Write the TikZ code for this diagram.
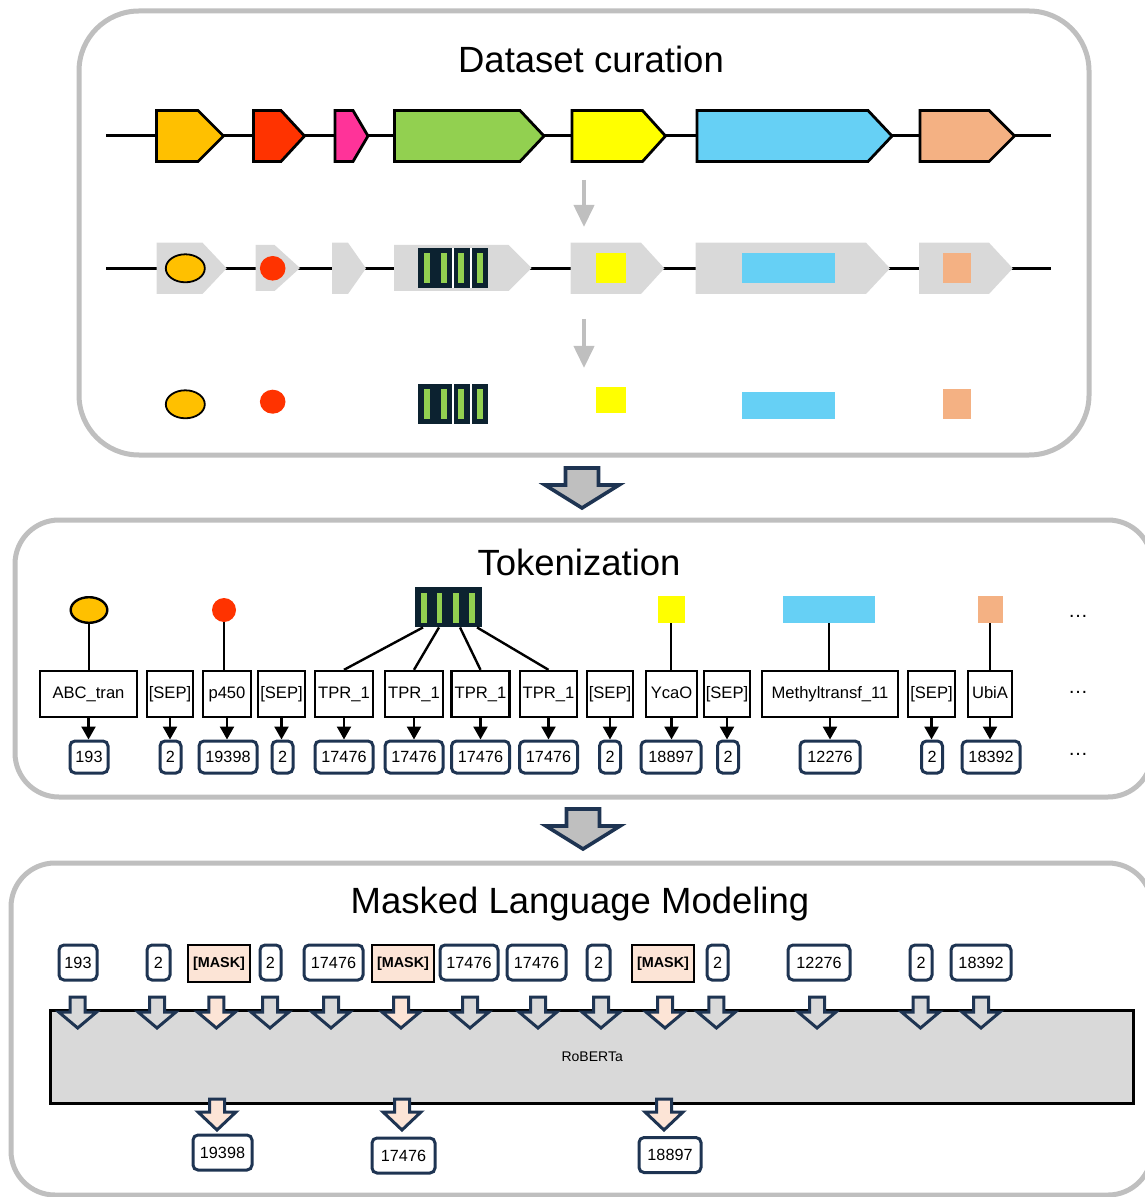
\documentclass[tikz,border=0pt]{standalone}
\usepackage{fontspec}
\setmainfont{Liberation Sans}
\usetikzlibrary{shapes.geometric,arrows.meta,calc}
\definecolor{panelgray}{HTML}{BFBFBF}
\definecolor{navy}{HTML}{1E3452}
\definecolor{genegray}{HTML}{D9D9D9}
\definecolor{gorange}{HTML}{FFC000}
\definecolor{gred}{HTML}{FF3300}
\definecolor{gpink}{HTML}{FF3399}
\definecolor{ggreen}{HTML}{92D050}
\definecolor{gyellow}{HTML}{FFFF00}
\definecolor{gblue}{HTML}{66D0F5}
\definecolor{gtan}{HTML}{F4B183}
\definecolor{domdark}{HTML}{0C2230}
\definecolor{peach}{HTML}{FCE4D6}
\definecolor{arrowgray}{HTML}{D9D9D9}
\tikzset{
  panel/.style={draw=panelgray, line width=2.5pt},
  title/.style={font=\fontsize{18.25}{21}\selectfont, anchor=base, inner sep=0pt},
  gene/.style={draw=black, line width=1.4pt, line join=miter},
  ggene/.style={fill=genegray},
  chrom/.style={draw=black, line width=1.4pt},
  grayarrow/.style={draw=panelgray, line width=2pt, -{Triangle[width=10pt,length=11pt]}},
  tok/.style={draw=black, line width=1.2pt, fill=white, minimum height=23pt, inner sep=0pt,
    font=\fontsize{8.3}{10}\selectfont, text height=6pt, text depth=1.5pt},
  num/.style={draw=navy, line width=1.5pt, rounded corners=2.5pt, fill=white, minimum height=16pt,
    inner sep=0pt, font=\fontsize{8.1}{9.6}\selectfont},
  mnum/.style={num, minimum height=17.5pt},
  mask/.style={draw=black, line width=1.2pt, fill=peach, minimum width=31pt, minimum height=18.5pt,
    inner sep=0pt, font=\fontsize{7.2}{8.6}\selectfont\bfseries},
  link/.style={draw=black, line width=1.2pt},
  tokarrow/.style={draw=black, line width=1.2pt, -{Triangle[width=7pt,length=6.5pt]}},
  dots/.style={font=\fontsize{10}{12}\selectfont, inner sep=0pt},
  blk/.style={draw=navy, line width=1.5pt, line join=miter, fill=arrowgray},
  blkpeach/.style={blk, fill=peach},
  bigblk/.style={draw=navy, line width=1.8pt, line join=miter, fill=panelgray},
}
% gene arrow: style, x0, xbody, xtip, ytop, ybottom
\newcommand\genearrow[6]{\path[#1] (#2,#5) -- (#3,#5) -- (#4,{(#5+#6)/2}) -- (#3,#6) -- (#2,#6) -- cycle;}
% down block arrow: style, centre x, half shaft, half head, top, shoulder, tip
\newcommand\blkdown[7]{\path[#1] ({#2-#3},#5) -- ({#2+#3},#5) -- ({#2+#3},#6) -- ({#2+#4},#6) -- (#2,#7) -- ({#2-#4},#6) -- ({#2-#3},#6) -- cycle;}
% Pfam TPR domain (70 x 40) with separators: x0, y0
\newcommand\pfamdom[2]{%
  \fill[domdark] (#1,#2) rectangle ++(70,40);
  \foreach \bx in {9,26,43,62} {\fill[ggreen] ({#1+\bx-2.8},{#2+5}) rectangle ++(5.6,30);}
  \draw[white, line width=0.8pt] ({#1+35},#2) -- ++(0,40);
  \draw[white, line width=0.8pt] ({#1+53},#2) -- ++(0,40);}
\begin{document}
\begin{tikzpicture}[x=0.5pt,y=-0.5pt]
\useasboundingbox (0,0) rectangle (1144,1197);

% ---------------- Panels ----------------
\draw[panel, rounded corners=30pt] (79,11) rectangle (1089,455);
\draw[panel, rounded corners=22pt] (15,520) rectangle (1152,797);
\draw[panel, rounded corners=22pt] (11,863) rectangle (1152,1195);

\node[title] (t1) at (591,73) {Dataset curation};
\node[title] (t2) at (579,575) {Tokenization};
\node[title] (t3) at (580,913) {Masked Language Modeling};

% ---------------- Row 1: gene cluster ----------------
\draw[chrom] (106,135.5) -- (1051,135.5);
\genearrow{gene, fill=gorange}{156.5}{198}{223.5}{110.5}{161.5}
\genearrow{gene, fill=gred}{253.5}{281}{304.5}{110.5}{161.5}
\genearrow{gene, fill=gpink}{335}{353}{368}{110.5}{161.5}
\genearrow{gene, fill=ggreen}{394.5}{520}{544}{110.5}{161.5}
\genearrow{gene, fill=gyellow}{572}{642.5}{665.5}{110.5}{161.5}
\genearrow{gene, fill=gblue}{697}{868}{892}{110.5}{161.5}
\genearrow{gene, fill=gtan}{920}{989}{1014.5}{110.5}{161.5}

\coordinate (ga1) at (584,180);
\coordinate (gb1) at (584,227);
\draw[grayarrow] (ga1) -- (gb1);

% ---------------- Row 2: annotated genes ----------------
\draw[chrom] (106,268.3) -- (1051,268.3);
\genearrow{ggene}{156.5}{202.5}{226.7}{242.7}{294}
\genearrow{ggene}{255.5}{274.6}{300}{245}{291}
\genearrow{ggene}{332}{348}{366}{242.7}{294}
\genearrow{ggene}{394}{508.7}{531.7}{245}{291}
\genearrow{ggene}{570.6}{641}{664.4}{242.7}{294}
\genearrow{ggene}{695.7}{866}{890}{242.7}{294}
\genearrow{ggene}{919}{989}{1012.8}{242.7}{294}
\draw[black, line width=0.9pt, fill=gorange] (185.3,268.3) ellipse [x radius=19.5, y radius=14];
\fill[gred] (272.7,268.3) ellipse [x radius=12.8, y radius=12.3];
\pfamdom{418}{248.3}
\fill[gyellow] (595.5,253.3) rectangle (625.5,283.3);
\fill[gblue] (742,253.3) rectangle (835,283.3);
\fill[gtan] (943,253.3) rectangle (971,283.3);

\coordinate (ga2) at (584,319);
\coordinate (gb2) at (584,368);
\draw[grayarrow] (ga2) -- (gb2);

% ---------------- Row 3: domains only ----------------
\draw[black, line width=0.9pt, fill=gorange] (185.3,404.3) ellipse [x radius=19.5, y radius=14];
\fill[gred] (272.7,401.7) ellipse [x radius=12.8, y radius=12];
\pfamdom{418}{384}
\fill[gyellow] (595.5,386.7) rectangle (625.5,413.3);
\fill[gblue] (742,392) rectangle (835,419);
\fill[gtan] (943,389.3) rectangle (971,419);

% big arrow 1
\blkdown{bigblk}{582}{16.5}{37}{468}{485}{508}

% ---------------- Tokenization ----------------
\node[ellipse, draw=black, line width=1.2pt, fill=gorange, minimum width=18.3pt, minimum height=12.8pt, inner sep=0pt] (ic1) at (89,610) {};
\node[circle, fill=gred, minimum size=12pt, inner sep=0pt] (ic2) at (224,610) {};
\node[rectangle, fill=domdark, minimum width=33.5pt, minimum height=20pt, inner sep=0pt] (ic3) at (448.5,607) {};
\foreach \bx in {424,439.5,456,471.7} {\fill[ggreen] ({\bx-2.85},593) rectangle ({\bx+2.85},623);}
\node[rectangle, fill=gyellow, minimum width=13.5pt, minimum height=13.5pt, inner sep=0pt] (ic4) at (671,609.5) {};
\node[rectangle, fill=gblue, minimum width=46pt, minimum height=13.5pt, inner sep=0pt] (ic5) at (829,609.5) {};
\node[rectangle, fill=gtan, minimum width=12.5pt, minimum height=13.5pt, inner sep=0pt] (ic6) at (990,609.5) {};

\node[tok, minimum width=48.5pt] (tk1) at (88.5,694) {ABC\_tran};
\node[tok, minimum width=23pt] (tk2) at (170,694) {[SEP]};
\node[tok, minimum width=24pt] (tk3) at (227,694) {p450};
\node[tok, minimum width=23.5pt] (tk4) at (281.5,694) {[SEP]};
\node[tok, minimum width=29pt] (tk5) at (344,694) {TPR\_1};
\node[tok, minimum width=29pt] (tk6) at (414,694) {TPR\_1};
\node[tok, minimum width=29pt] (tk7) at (480.5,694) {TPR\_1};
\node[tok, minimum width=28.5pt] (tk8) at (548.5,694) {TPR\_1};
\node[tok, minimum width=23pt] (tk9) at (610,694) {[SEP]};
\node[tok, minimum width=25.5pt] (tk10) at (671.5,694) {YcaO};
\node[tok, minimum width=23pt] (tk11) at (727,694) {[SEP]};
\node[tok, minimum width=68pt] (tk12) at (830,694) {Methyltransf\_11};
\node[tok, minimum width=23.5pt] (tk13) at (931.5,694) {[SEP]};
\node[tok, minimum width=22pt] (tk14) at (990,694) {UbiA};

\node[num, minimum width=19pt] (n1) at (89,757) {193};
\node[num, minimum width=10.5pt] (n2) at (170.5,757) {2};
\node[num, minimum width=29pt] (n3) at (228,757) {19398};
\node[num, minimum width=10.5pt] (n4) at (282.5,757) {2};
\node[num, minimum width=29pt] (n5) at (344,757) {17476};
\node[num, minimum width=29pt] (n6) at (414,757) {17476};
\node[num, minimum width=29pt] (n7) at (480.5,757) {17476};
\node[num, minimum width=29pt] (n8) at (548.5,757) {17476};
\node[num, minimum width=10.5pt] (n9) at (610,757) {2};
\node[num, minimum width=30pt] (n10) at (671,757) {18897};
\node[num, minimum width=10.5pt] (n11) at (728,757) {2};
\node[num, minimum width=30pt] (n12) at (830,757) {12276};
\node[num, minimum width=10.5pt] (n13) at (932,757) {2};
\node[num, minimum width=29pt] (n14) at (991,757) {18392};

\node[dots] (d1) at (1078,616) {…};
\node[dots] (d2) at (1078,692) {…};
\node[dots] (d3) at (1078,754) {…};

% icon links
\draw[link] (ic1.south) -- (ic1.south |- tk1.north);
\draw[link] (ic2.south) -- (ic2.south |- tk3.north);
\draw[link] ([xshift=-12.75pt]ic3.south) -- (tk5.north);
\draw[link] ([xshift=-4.75pt]ic3.south) -- (tk6.north);
\draw[link] ([xshift=5.75pt]ic3.south) -- (tk7.north);
\draw[link] ([xshift=14.25pt]ic3.south) -- (tk8.north);
\draw[link] (ic4.south) -- (ic4.south |- tk10.north);
\draw[link] (ic5.south) -- (ic5.south |- tk12.north);
\draw[link] (ic6.south) -- (ic6.south |- tk14.north);

% token -> id arrows
\foreach \i in {1,...,14} {\draw[tokarrow] (tk\i.south) -- (tk\i.south |- n\i.north);}

% big arrow 2
\blkdown{bigblk}{583}{16.5}{37}{809}{826}{849}

% ---------------- Masked Language Modeling ----------------
\node[draw=black, line width=1.5pt, fill=genegray, minimum width=541.5pt, minimum height=46.7pt, inner sep=0pt,
  font=\fontsize{7}{8.4}\selectfont] (rb) at (592.2,1056.7) {RoBERTa};

\node[mnum, minimum width=19pt] (m1) at (78,962.5) {193};
\node[mnum, minimum width=11.5pt] (m2) at (158.5,962.5) {2};
\node[mask] (m3) at (219,963.5) {[MASK]};
\node[mnum, minimum width=10.5pt] (m4) at (270.5,962.5) {2};
\node[mnum, minimum width=29.5pt] (m5) at (333.5,962.5) {17476};
\node[mask] (m6) at (403,963.5) {[MASK]};
\node[mnum, minimum width=29pt] (m7) at (469,962.5) {17476};
\node[mnum, minimum width=29.5pt] (m8) at (536.5,962.5) {17476};
\node[mnum, minimum width=11.5pt] (m9) at (598.5,962.5) {2};
\node[mask] (m10) at (663,963.5) {[MASK]};
\node[mnum, minimum width=10.5pt] (m11) at (717.5,962.5) {2};
\node[mnum, minimum width=31pt] (m12) at (819,962.5) {12276};
\node[mnum, minimum width=11pt] (m13) at (921,962.5) {2};
\node[mnum, minimum width=30pt] (m14) at (981,962.5) {18392};

% input block arrows into RoBERTa
\foreach \cx in {77.7,157,270,331,470,538,601,716.4,817,920.5,981}
  {\blkdown{blk}{\cx}{7.5}{19}{997}{1012}{1028}}
\foreach \cx in {216.4,401,665}
  {\blkdown{blkpeach}{\cx}{7.5}{19}{997}{1012}{1028}}

% output block arrows
\foreach \cx in {217,402,664}
  {\blkdown{blkpeach}{\cx}{7.5}{19}{1099}{1112}{1130}}

\node[mnum, minimum width=29.5pt] (o1) at (222.5,1152.5) {19398};
\node[mnum, minimum width=31.5pt] (o2) at (403.5,1155.5) {17476};
\node[mnum, minimum width=31pt] (o3) at (670,1155) {18897};
\end{tikzpicture}
\end{document}
